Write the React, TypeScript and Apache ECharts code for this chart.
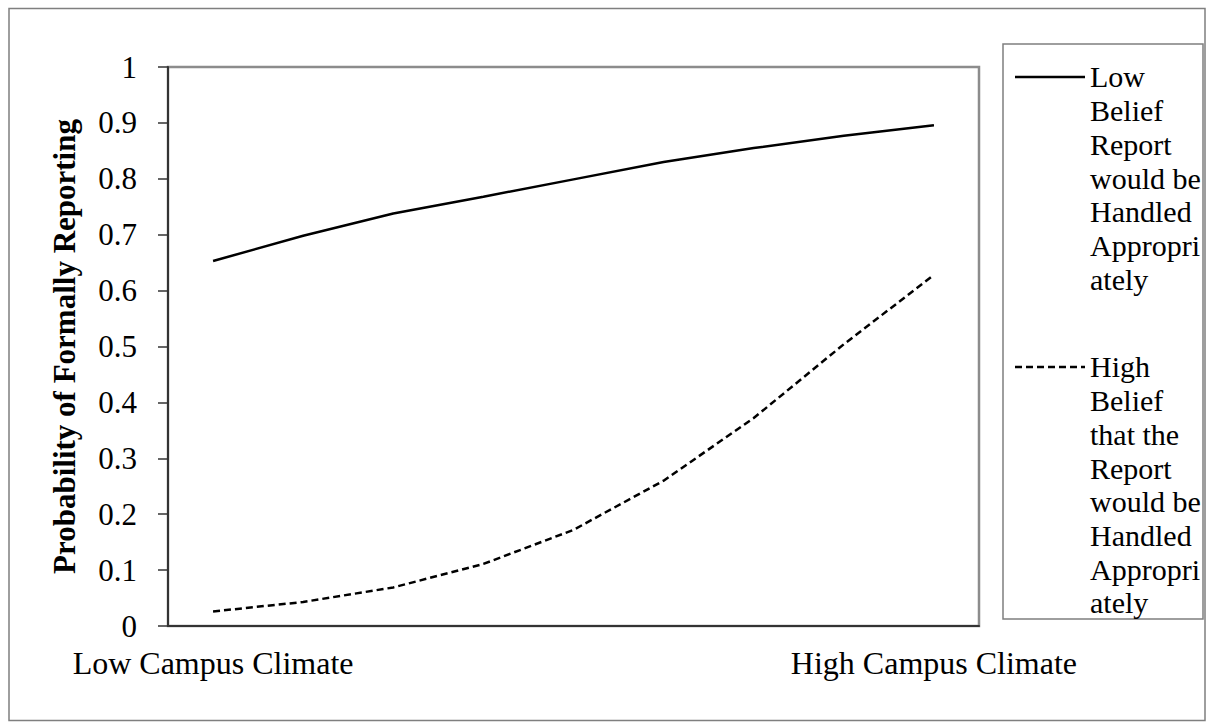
import React, { useEffect, useRef } from "react";
import * as echarts from "echarts";

const categories = ["Low Campus Climate", "", "", "", "", "", "", "", "High Campus Climate"];
const lowBelief = [0.653, 0.698, 0.738, 0.768, 0.799, 0.83, 0.855, 0.877, 0.896];
const highBelief = [0.026, 0.043, 0.069, 0.111, 0.172, 0.26, 0.372, 0.504, 0.628];
const seriesNames = [
  "Low Belief Report would be Handled Appropriately",
  "High Belief that the Report would be Handled Appropriately",
];
const legendLines1 = ["Low", "Belief", "Report", "would be", "Handled", "Appropri", "ately"];
const legendLines2 = ["High", "Belief", "that the", "Report", "would be", "Handled", "Appropri", "ately"];
const yAxisTitle = "Probability of Formally Reporting";

const FONT = "Liberation Serif";
const LH = 33.7;

export default function App() {
  const ref = useRef<HTMLDivElement>(null);
  useEffect(() => {
    if (!ref.current) return;
    const chart = echarts.init(ref.current, undefined, { renderer: "svg" });
    const option: any = {
      animation: false,
      backgroundColor: "#ffffff",
      grid: {
        left: 168,
        top: 67,
        right: 233,
        bottom: 102,
        show: true,
        borderColor: "#8c8c8c",
        borderWidth: 2.5,
        backgroundColor: "transparent",
      },
      xAxis: {
        type: "category",
        data: categories,
        boundaryGap: true,
        axisLine: { show: true, lineStyle: { color: "#333333", width: 2 } },
        axisTick: { show: false },
        axisLabel: {
          interval: 0,
          color: "#000",
          fontFamily: FONT,
          fontSize: 32,
          margin: 21,
        },
        splitLine: { show: false },
      },
      yAxis: {
        type: "value",
        min: 0,
        max: 1,
        interval: 0.1,
        name: yAxisTitle,
        nameLocation: "middle",
        nameGap: 88,
        nameTextStyle: {
          color: "#000",
          fontFamily: FONT,
          fontSize: 31,
          fontWeight: "bold",
        },
        axisLine: { show: true, lineStyle: { color: "#333333", width: 2 } },
        axisTick: { show: true, inside: false, length: 10, lineStyle: { color: "#333333", width: 1.5 } },
        axisLabel: {
          color: "#000",
          fontFamily: FONT,
          fontSize: 31,
          margin: 31,
        },
        splitLine: { show: false },
      },
      series: [
        {
          name: seriesNames[0],
          type: "line",
          data: lowBelief,
          symbol: "none",
          smooth: false,
          lineStyle: { color: "#000", width: 2.5, type: "solid" },
        },
        {
          name: seriesNames[1],
          type: "line",
          data: highBelief,
          symbol: "none",
          smooth: false,
          lineStyle: { color: "#000", width: 2.5, type: [7, 4] },
        },
      ],
      graphic: [
        {
          type: "rect",
          shape: { x: 9, y: 8.5, width: 1196, height: 712 },
          style: { fill: "none", stroke: "#7f7f7f", lineWidth: 1.5 },
          silent: true,
        },
        {
          type: "rect",
          shape: { x: 1003, y: 44, width: 200, height: 575 },
          style: { fill: "#fff", stroke: "#7f7f7f", lineWidth: 1.5 },
          silent: true,
        },
        {
          type: "line",
          shape: { x1: 1015, y1: 77, x2: 1085, y2: 77 },
          style: { stroke: "#000", lineWidth: 2.5 },
          silent: true,
        },
        {
          type: "text",
          x: 1090,
          y: 77 - LH / 2,
          style: {
            text: legendLines1.join("\n"),
            fill: "#000",
            fontFamily: FONT,
            fontSize: 30,
            lineHeight: LH,
            verticalAlign: "top",
            align: "left",
          },
          silent: true,
        },
        {
          type: "line",
          shape: { x1: 1015, y1: 367, x2: 1085, y2: 367 },
          style: { stroke: "#000", lineWidth: 2.5, lineDash: [7, 4] },
          silent: true,
        },
        {
          type: "text",
          x: 1090,
          y: 367 - LH / 2,
          style: {
            text: legendLines2.join("\n"),
            fill: "#000",
            fontFamily: FONT,
            fontSize: 30,
            lineHeight: LH,
            verticalAlign: "top",
            align: "left",
          },
          silent: true,
        },
      ],
    };
    chart.setOption(option);
    return () => chart.dispose();
  }, []);
  return (
    <div
      ref={ref}
      style={{ position: "absolute", left: 0, top: 0, width: 1212, height: 728, background: "#fff" }}
    />
  );
}
